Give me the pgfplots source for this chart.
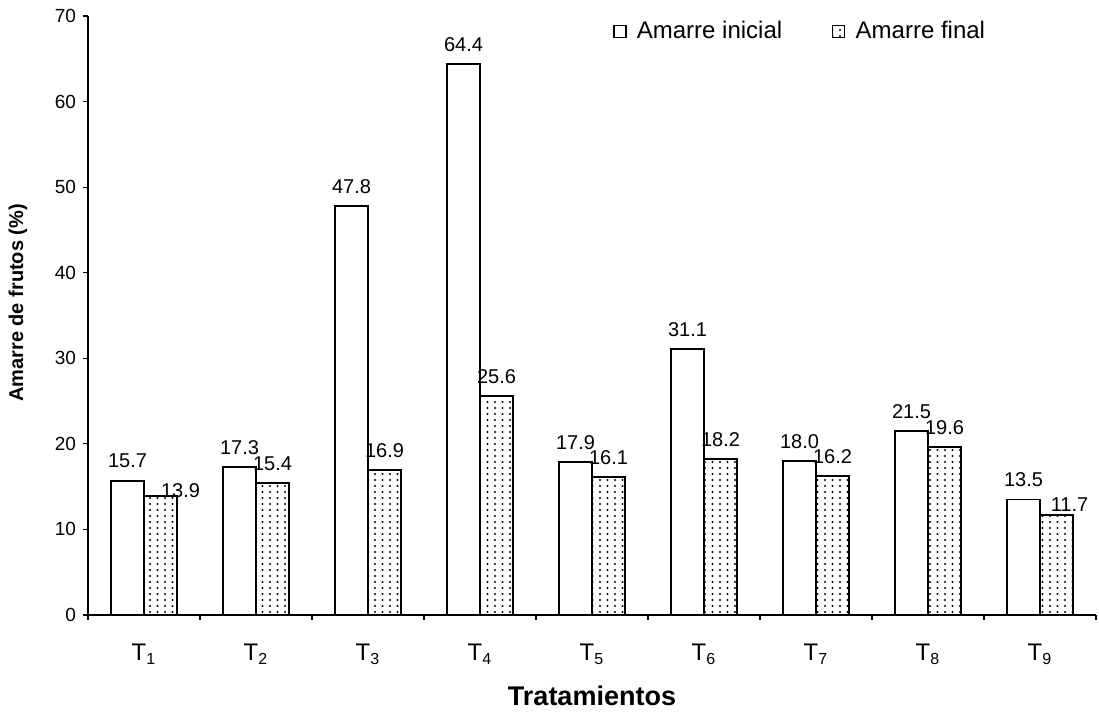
\documentclass[border=0pt]{standalone}
\usepackage{pgfplots}
\usepackage{pgfplotstable}
\pgfplotsset{compat=1.18}
\usepackage{fontspec}
\setmainfont{Liberation Sans}
\usetikzlibrary{patterns}

% fine dot grid for the final fruit-set bars
\pgfdeclarepatternformonly{finedots}{\pgfqpoint{-1pt}{-1pt}}{\pgfqpoint{1pt}{1pt}}{\pgfqpoint{3.75pt}{3pt}}{%
  \pgfpathcircle{\pgfqpoint{0pt}{0pt}}{0.55pt}%
  \pgfusepath{fill}}

% x = treatment position, y = fruit set (%), dx/dy = label nudge (pt)
\pgfplotstableread{
x   y     dx   dy
0.5 15.7  0    0
1.5 17.3  0    0
2.5 47.8  0    0
3.5 64.4  0    0
4.5 17.9  0    0
5.5 31.1  0    0
6.5 18.0  0    0
7.5 21.5  0    0
8.5 13.5  0    0
}\inicial
\pgfplotstableread{
x   y     dx   dy
0.5 13.9  10   -7
1.5 15.4  0    0
2.5 16.9  0    0
3.5 25.6  0    0
4.5 16.1  0    0
5.5 18.2  0    0
6.5 16.2  0    0
7.5 19.6  0    0
8.5 11.7  6.5  -4.5
}\final

\begin{document}
\begin{tikzpicture}
\useasboundingbox (0,0) rectangle (549.5pt,-357pt);
\begin{axis}[
  at={(44pt,-307.5pt)}, anchor=south west,
  scale only axis,
  width=504pt, height=299.5pt,
  ybar=0pt, bar width=16.5pt,
  xmin=0, xmax=9, ymin=0, ymax=70,
  axis x line*=bottom, axis y line*=left,
  axis line style={line width=0.7pt, -},
  tick align=outside,
  major tick length=2.5pt,
  tick style={line width=0.6pt, black},
  ytick={0,10,...,70},
  xtick={0,1,...,9},
  xticklabels={},
  extra x ticks={0.5,1.5,...,8.5},
  extra x tick labels={T\textsubscript{1},T\textsubscript{2},T\textsubscript{3},T\textsubscript{4},T\textsubscript{5},T\textsubscript{6},T\textsubscript{7},T\textsubscript{8},T\textsubscript{9}},
  extra x tick style={major tick length=0pt, tick label style={font=\fontsize{12}{14}\selectfont, yshift=-11pt}},
  yticklabel style={font=\fontsize{9.5}{11}\selectfont},
  /pgf/number format/assume math mode=true,
  ylabel={Amarre de frutos (\%)},
  xlabel={Tratamientos},
  every axis y label/.style={at={(axis description cs:-0.0694,0.521)}, rotate=90, anchor=center, font=\bfseries\fontsize{10}{12}\selectfont},
  every axis x label/.style={at={(axis description cs:0.5,-0.135)}, anchor=center, font=\bfseries\fontsize{13.5}{16}\selectfont},
  visualization depends on={\thisrow{dx} \as \labdx},
  visualization depends on={\thisrow{dy} \as \labdy},
  nodes near coords,
  nodes near coords style={font=\fontsize{10}{12}\selectfont, xshift=\labdx pt, yshift=2.5pt+\labdy pt,
    /pgf/number format/.cd, fixed, fixed zerofill, precision=1, assume math mode=true},
  legend columns=2,
  legend style={draw=none, fill=none, at={(axis description cs:0.5208,0.974)}, anchor=west,
    inner sep=0pt, font=\fontsize{12}{14}\selectfont,
    /tikz/every even column/.append style={column sep=23pt}},
  legend image code/.code={\draw[#1, line width=0.6pt] (0pt,-3pt) rectangle (6pt,3pt); \path (9pt,0pt);},
]
\addplot[draw=black, fill=white, line width=0.9pt] table[x=x, y=y] {\inicial};
\addplot[draw=black, fill=white, line width=0.9pt, postaction={pattern=finedots}] table[x=x, y=y] {\final};
\legend{Amarre inicial, Amarre final}
\end{axis}
\end{tikzpicture}
\end{document}
